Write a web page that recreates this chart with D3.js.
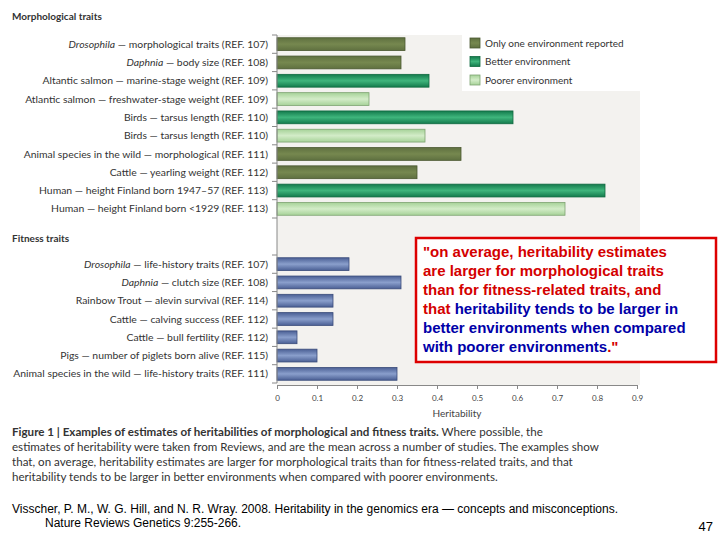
<!DOCTYPE html>
<html><head><meta charset="utf-8">
<script src="https://cdn.jsdelivr.net/npm/d3@7"></script>
<style>body{margin:0;background:#fff}</style>
</head><body>
<svg id="chart" width="720" height="540"></svg>
<script>
// Data
const morphLabels = [
    ["Drosophila", " — morphological traits (REF. 107)"],
    ["Daphnia", " — body size (REF. 108)"],
    ["", "Altantic salmon — marine-stage weight (REF. 109)"],
    ["", "Atlantic salmon — freshwater-stage weight (REF. 109)"],
    ["", "Birds — tarsus length (REF. 110)"],
    ["", "Birds — tarsus length (REF. 110)"],
    ["", "Animal species in the wild — morphological (REF. 111)"],
    ["", "Cattle — yearling weight (REF. 112)"],
    ["", "Human — height Finland born 1947–57 (REF. 113)"],
    ["", "Human — height Finland born <1929 (REF. 113)"]
];
const morphValues = [0.32, 0.31, 0.38, 0.23, 0.59, 0.37, 0.46, 0.35, 0.82, 0.72];
const morphGroup = ["only", "only", "better", "poorer", "better", "poorer", "only", "only", "better", "poorer"];

const fitLabels = [
    ["Drosophila", " — life-history traits (REF. 107)"],
    ["Daphnia", " — clutch size (REF. 108)"],
    ["", "Rainbow Trout — alevin survival (REF. 114)"],
    ["", "Cattle — calving success (REF. 112)"],
    ["", "Cattle — bull fertility (REF. 112)"],
    ["", "Pigs — number of piglets born alive (REF. 115)"],
    ["", "Animal species in the wild — life-history traits (REF. 111)"]
];
const fitValues = [0.18, 0.31, 0.14, 0.14, 0.05, 0.10, 0.30];

const legendNames = ["Only one environment reported", "Better environment", "Poorer environment"];
const legendKeys = ["only", "better", "poorer"];
const xTicks = [0, 0.1, 0.2, 0.3, 0.4, 0.5, 0.6, 0.7, 0.8, 0.9];

const svg = d3.select("#chart");
const font = "Lato, 'Open Sans', sans-serif";
const x = d3.scaleLinear().domain([0, 0.9]).range([277, 637]);
const yM = d3.scaleBand().domain(d3.range(morphValues.length)).range([35, 218]).paddingInner(0.3).paddingOuter(0.15);
const yF = d3.scaleBand().domain(d3.range(fitValues.length)).range([255, 383]).paddingInner(0.3).paddingOuter(0.15);

// gradients
const defs = svg.append("defs");
function grad(id, c1, c2) {
    const g = defs.append("linearGradient").attr("id", id).attr("x1", 0).attr("x2", 0).attr("y1", 0).attr("y2", 1);
    g.append("stop").attr("offset", "0%").attr("stop-color", c1);
    g.append("stop").attr("offset", "50%").attr("stop-color", c2);
    g.append("stop").attr("offset", "100%").attr("stop-color", c1);
}
grad("g-only", "#5f7040", "#76884f");
grad("g-better", "#137a4c", "#3fb57c");
grad("g-poorer", "#a6d298", "#d3ecc8");
grad("g-fit", "#4a5f94", "#8a9fcc");
const strokes = { only: "#4a5830", better: "#0f6a40", poorer: "#7ea372" };

// plot background
svg.append("rect").attr("x", 277).attr("y", 35).attr("width", 363).attr("height", 350).attr("fill", "#f3f2ef");

// section titles
svg.append("text").attr("x", 12).attr("y", 20).text("Morphological traits")
    .style("font-family", font).style("font-size", "10px").style("font-weight", "bold").attr("fill", "#333");
svg.append("text").attr("x", 12).attr("y", 242).text("Fitness traits")
    .style("font-family", font).style("font-size", "10px").style("font-weight", "bold").attr("fill", "#333");

function section(labels, values, y, fillFn, strokeFn) {
    const g = svg.append("g");
    g.selectAll("rect").data(values).join("rect")
        .attr("x", x(0)).attr("y", (d, i) => y(i)).attr("height", y.bandwidth())
        .attr("width", d => x(d) - x(0))
        .attr("fill", fillFn).attr("stroke", strokeFn).attr("stroke-width", 0.8);
    const t = g.selectAll("text").data(labels).join("text")
        .attr("x", 268).attr("y", (d, i) => y(i) + y.bandwidth() / 2).attr("dy", "0.35em")
        .attr("text-anchor", "end").attr("fill", "#333")
        .style("font-family", font).style("font-size", "10.4px");
    t.append("tspan").style("font-style", "italic").text(d => d[0]);
    t.append("tspan").text(d => d[1]);
    // left axis line with ticks between rows
    const step = y.step();
    g.append("line").attr("x1", 277).attr("x2", 277).attr("y1", y.range()[0]).attr("y2", y.range()[1]).attr("stroke", "#888");
    g.selectAll("line.tk").data(d3.range(values.length + 1)).join("line").attr("class", "tk")
        .attr("x1", 272).attr("x2", 277)
        .attr("y1", i => y(0) - step * y.paddingInner() / 2 + i * step)
        .attr("y2", i => y(0) - step * y.paddingInner() / 2 + i * step)
        .attr("stroke", "#888");
}
section(morphLabels, morphValues, yM, (d, i) => `url(#g-${morphGroup[i]})`, (d, i) => strokes[morphGroup[i]]);
section(fitLabels, fitValues, yF, () => "url(#g-fit)", () => "#3a4c7a");
svg.append("line").attr("x1", 277).attr("x2", 277).attr("y1", 218).attr("y2", 255).attr("stroke", "#888");

// x axis
const ax = svg.append("g").attr("transform", "translate(0,385)")
    .call(d3.axisBottom(x).tickValues(xTicks).tickSize(4).tickFormat(d => d === 0 ? "0" : d3.format(".1f")(d)));
ax.select(".domain").attr("stroke", "#888");
ax.selectAll(".tick line").attr("stroke", "#888");
ax.selectAll("text").attr("fill", "#444").style("font-family", font).style("font-size", "8px").attr("dy", "1.1em");
svg.append("text").attr("x", 457).attr("y", 417).attr("text-anchor", "middle").text("Heritability")
    .attr("fill", "#444").style("font-family", font).style("font-size", "10px");

// legend
const lg = svg.append("g");
lg.append("rect").attr("x", 462).attr("y", 35).attr("width", 180).attr("height", 56).attr("fill", "#fff");
const li = lg.selectAll("g").data(legendKeys).join("g").attr("transform", (d, i) => `translate(470,${38 + i * 18.5})`);
li.append("rect").attr("width", 10).attr("height", 10).attr("fill", d => `url(#g-${d})`).attr("stroke", d => strokes[d]).attr("stroke-width", 0.8);
li.append("text").attr("x", 15).attr("y", 5).attr("dy", "0.35em").text((d, i) => legendNames[i])
    .attr("fill", "#333").style("font-family", font).style("font-size", "10px");

// caption
const cap = [
    [["Figure 1 | Examples of estimates of heritabilities of morphological and fitness traits.", true], [" Where possible, the", false]],
    [["estimates of heritability were taken from Reviews, and are the mean across a number of studies. The examples show", false]],
    [["that, on average, heritability estimates are larger for morphological traits than for fitness-related traits, and that", false]],
    [["heritability tends to be larger in better environments when compared with poorer environments.", false]]
];
cap.forEach((line, i) => {
    const t = svg.append("text").attr("x", 12).attr("y", 436 + i * 15)
        .attr("fill", "#333").style("font-family", font).style("font-size", "11.6px");
    line.forEach(s => t.append("tspan").style("font-weight", s[1] ? "bold" : "normal").text(s[0]));
});

// citation
svg.append("text").attr("x", 12).attr("y", 513).text("Visscher, P. M., W. G. Hill, and N. R. Wray. 2008. Heritability in the genomics era — concepts and misconceptions.")
    .style("font-family", "Arial, 'Liberation Sans', sans-serif").style("font-size", "12px").attr("fill", "#000");
svg.append("text").attr("x", 45).attr("y", 527).text("Nature Reviews Genetics 9:255-266.")
    .style("font-family", "Arial, 'Liberation Sans', sans-serif").style("font-size", "12px").attr("fill", "#000");
svg.append("text").attr("x", 713).attr("y", 531).attr("text-anchor", "end").text("47")
    .style("font-family", "Arial, 'Liberation Sans', sans-serif").style("font-size", "13px").attr("fill", "#000");

// quote box
svg.append("rect").attr("x", 416).attr("y", 238).attr("width", 300).attr("height", 124)
    .attr("fill", "#fff").attr("stroke", "#d00").attr("stroke-width", 2.5);
const red = "#d40000", blue = "#0000a8";
const quote = [
    [["\"on average, heritability estimates", red]],
    [["are larger for morphological traits", red]],
    [["than for fitness-related traits, and", red]],
    [["that ", red], ["heritability tends to be larger in", blue]],
    [["better environments when compared", blue]],
    [["with poorer environments", blue], [".\"", red]]
];
quote.forEach((line, i) => {
    const t = svg.append("text").attr("x", 423).attr("y", 257 + i * 19)
        .style("font-family", "Arial, 'Liberation Sans', sans-serif").style("font-size", "15px").style("font-weight", "bold");
    line.forEach(s => t.append("tspan").attr("fill", s[1]).text(s[0]));
});
</script>
</body></html>
